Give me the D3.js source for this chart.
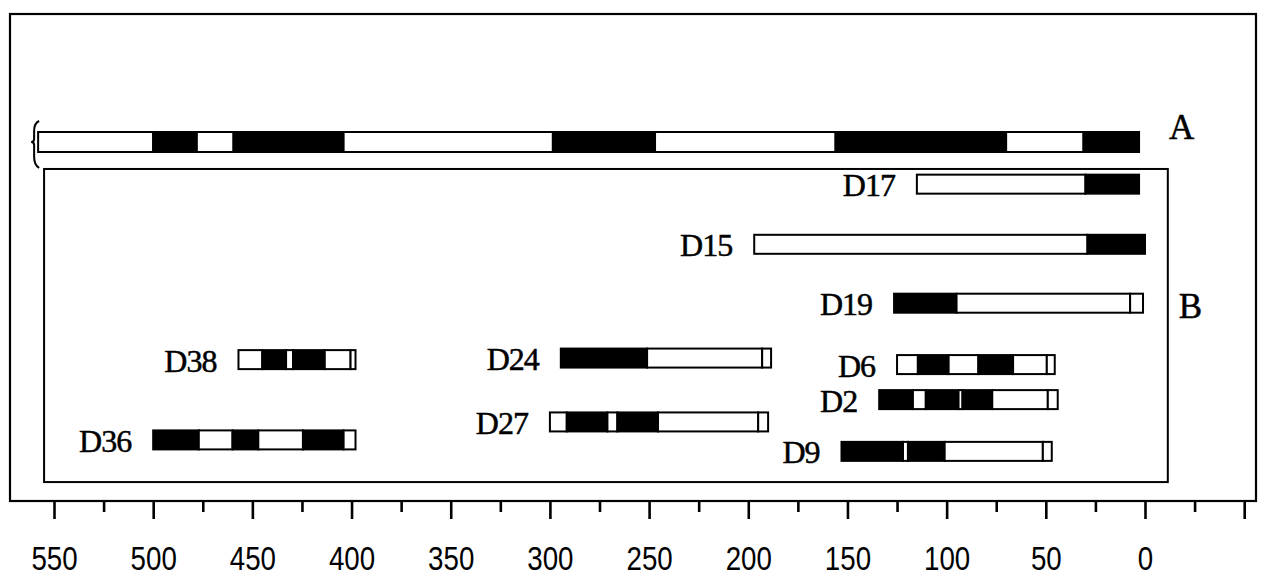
<!DOCTYPE html>
<html>
<head>
<meta charset="utf-8">
<script src="https://cdn.jsdelivr.net/npm/d3@7"></script>
<style>
  html, body { margin: 0; padding: 0; background: #fff; }
  svg { display: block; }
</style>
</head>
<body>
<svg id="chart" width="1264" height="577"></svg>
<script>
// ---------- data ----------
const names  = ["A", "D17", "D15", "D19", "D38", "D24", "D6", "D2", "D27", "D36", "D9"];
const tracks = [0, 1.36, 3.3, 5.2, 7.02, 6.97, 7.18, 8.31, 9.03, 9.61, 9.98];

// boundaries (bp, left to right) and fill of each segment between them: b = black, w = white
const bounds_A   = [558, 500, 478, 459.5, 404, 298.5, 247, 156, 70, 31, 3];
const fills_A    = ["w", "b", "w", "b", "w", "b", "w", "b", "w", "b"];
const bounds_D17 = [115, 30, 3];
const fills_D17  = ["w", "b"];
const bounds_D15 = [197, 29, 0];
const fills_D15  = ["w", "b"];
const bounds_D19 = [126.5, 95, 7.5, 1];
const fills_D19  = ["b", "w", "w"];
const bounds_D38 = [457, 445, 433, 429.5, 413.5, 400.5, 398];
const fills_D38  = ["w", "b", "w", "b", "w", "w"];
const bounds_D24 = [294.5, 251, 193, 188.5];
const fills_D24  = ["b", "w", "w"];
const bounds_D6  = [125, 114.5, 99, 84, 66.5, 49.5, 45.5];
const fills_D6   = ["w", "b", "w", "b", "w", "w"];
const bounds_D2  = [134, 117, 110.5, 94, 92, 77, 49, 44];
const fills_D2   = ["b", "w", "b", "w", "b", "w", "w"];
const bounds_D27 = [300, 291.5, 271, 266, 245.5, 195, 190];
const fills_D27  = ["w", "b", "w", "b", "w", "w"];
const bounds_D36 = [500, 477, 460, 447, 424.5, 404, 398];
const fills_D36  = ["b", "w", "b", "w", "b", "w"];
const bounds_D9  = [153, 122, 119.5, 101, 51.5, 47];
const fills_D9   = ["b", "w", "b", "w", "w"];

const majorTicks = d3.range(550, -51, -50);   // 550 ... -50
const minorTicks = d3.range(525, -26, -50);   // 525 ... -25
const tickLabels = ["550","500","450","400","350","300","250","200","150","100","50","0",""];

// ---------- table ----------
const boundsList = [bounds_A, bounds_D17, bounds_D15, bounds_D19, bounds_D38, bounds_D24,
                    bounds_D6, bounds_D2, bounds_D27, bounds_D36, bounds_D9];
const fillsList  = [fills_A, fills_D17, fills_D15, fills_D19, fills_D38, fills_D24,
                    fills_D6, fills_D2, fills_D27, fills_D36, fills_D9];
const frags = names.map((n, i) => ({
  name: n, track: tracks[i],
  segs: fillsList[i].map((f, j) => ({ from: boundsList[i][j], to: boundsList[i][j + 1], fill: f }))
}));

// ---------- layout ----------
const svg = d3.select("#chart");
const frame = { left: 10, top: 14, right: 1256, bottom: 501 };
const x = d3.scaleLinear().domain([550, 0]).range([54, 1145]);
const y = d3.scaleLinear().domain([0, 10]).range([142, 452]);
const serif = "'Liberation Serif', 'Times New Roman', serif";

// outer frame
svg.append("rect")
  .attr("x", frame.left).attr("y", frame.top)
  .attr("width", frame.right - frame.left).attr("height", frame.bottom - frame.top)
  .attr("fill", "none").attr("stroke", "#000").attr("stroke-width", 2.2);

// inner box B
svg.append("rect")
  .attr("x", x(555)).attr("y", y(0.87))
  .attr("width", x(-11.5) - x(555)).attr("height", y(10.97) - y(0.87))
  .attr("fill", "none").attr("stroke", "#000").attr("stroke-width", 2);

// axes: major and minor ticks
const axisMajor = d3.axisBottom(x).tickValues(majorTicks)
  .tickSize(18).tickPadding(28)
  .tickFormat((d, i) => tickLabels[i]);
const gMaj = svg.append("g").attr("transform", `translate(0,${frame.bottom})`).call(axisMajor);
gMaj.select(".domain").remove();
gMaj.selectAll(".tick line").attr("stroke", "#000").attr("stroke-width", 2.6);
gMaj.selectAll(".tick text")
  .attr("fill", "#000")
  .attr("transform", "scale(0.84,1)")
  .style("font-family", "'Liberation Sans', Arial, sans-serif")
  .style("font-size", "33px");

const axisMinor = d3.axisBottom(x).tickValues(minorTicks).tickSize(11).tickFormat("");
const gMin = svg.append("g").attr("transform", `translate(0,${frame.bottom})`).call(axisMinor);
gMin.select(".domain").remove();
gMin.selectAll(".tick line").attr("stroke", "#000").attr("stroke-width", 2.6);

// fragments
const g = svg.append("g");
frags.forEach(fr => {
  const h = fr.name === "A" ? 20 : 19;
  const yc = y(fr.track);
  g.selectAll(null).data(fr.segs).enter().append("rect")
    .attr("x", d => x(d.from))
    .attr("y", yc - h / 2)
    .attr("width", d => x(d.to) - x(d.from))
    .attr("height", h)
    .attr("fill", d => d.fill === "b" ? "#000" : "#fff")
    .attr("stroke", "#000")
    .attr("stroke-width", 2);
  if (fr.name !== "A") {
    g.append("text")
      .attr("x", x(fr.segs[0].from) - 22)
      .attr("y", yc + 12)
      .attr("text-anchor", "end")
      .attr("stroke", "#000").attr("stroke-width", 0.5)
      .style("font-family", serif)
      .style("font-size", "32px")
      .style("letter-spacing", "-1px")
      .text(fr.name);
  }
});

// brace at the open (left) end of fragment A
const bx = x(bounds_A[0]) - 4, by = y(tracks[0]);
svg.append("path")
  .attr("d", `M${bx + 5},${by - 21} Q${bx},${by - 19} ${bx},${by - 11} L${bx},${by - 3}
              Q${bx},${by} ${bx - 3},${by} Q${bx},${by} ${bx},${by + 3}
              L${bx},${by + 15} Q${bx},${by + 23} ${bx + 5},${by + 26}`)
  .attr("fill", "none").attr("stroke", "#000").attr("stroke-width", 2);

// panel letters
svg.append("text")
  .attr("x", x(bounds_A[bounds_A.length - 1]) + 30)
  .attr("y", y(tracks[0]) - 3)
  .attr("stroke", "#000").attr("stroke-width", 0.5)
  .style("font-family", serif).style("font-size", "35px")
  .text("A");
svg.append("text")
  .attr("x", x(-11.5) + 11)
  .attr("y", y(tracks[3]) + 15)
  .attr("stroke", "#000").attr("stroke-width", 0.5)
  .style("font-family", serif).style("font-size", "35px")
  .text("B");
</script>
</body>
</html>
